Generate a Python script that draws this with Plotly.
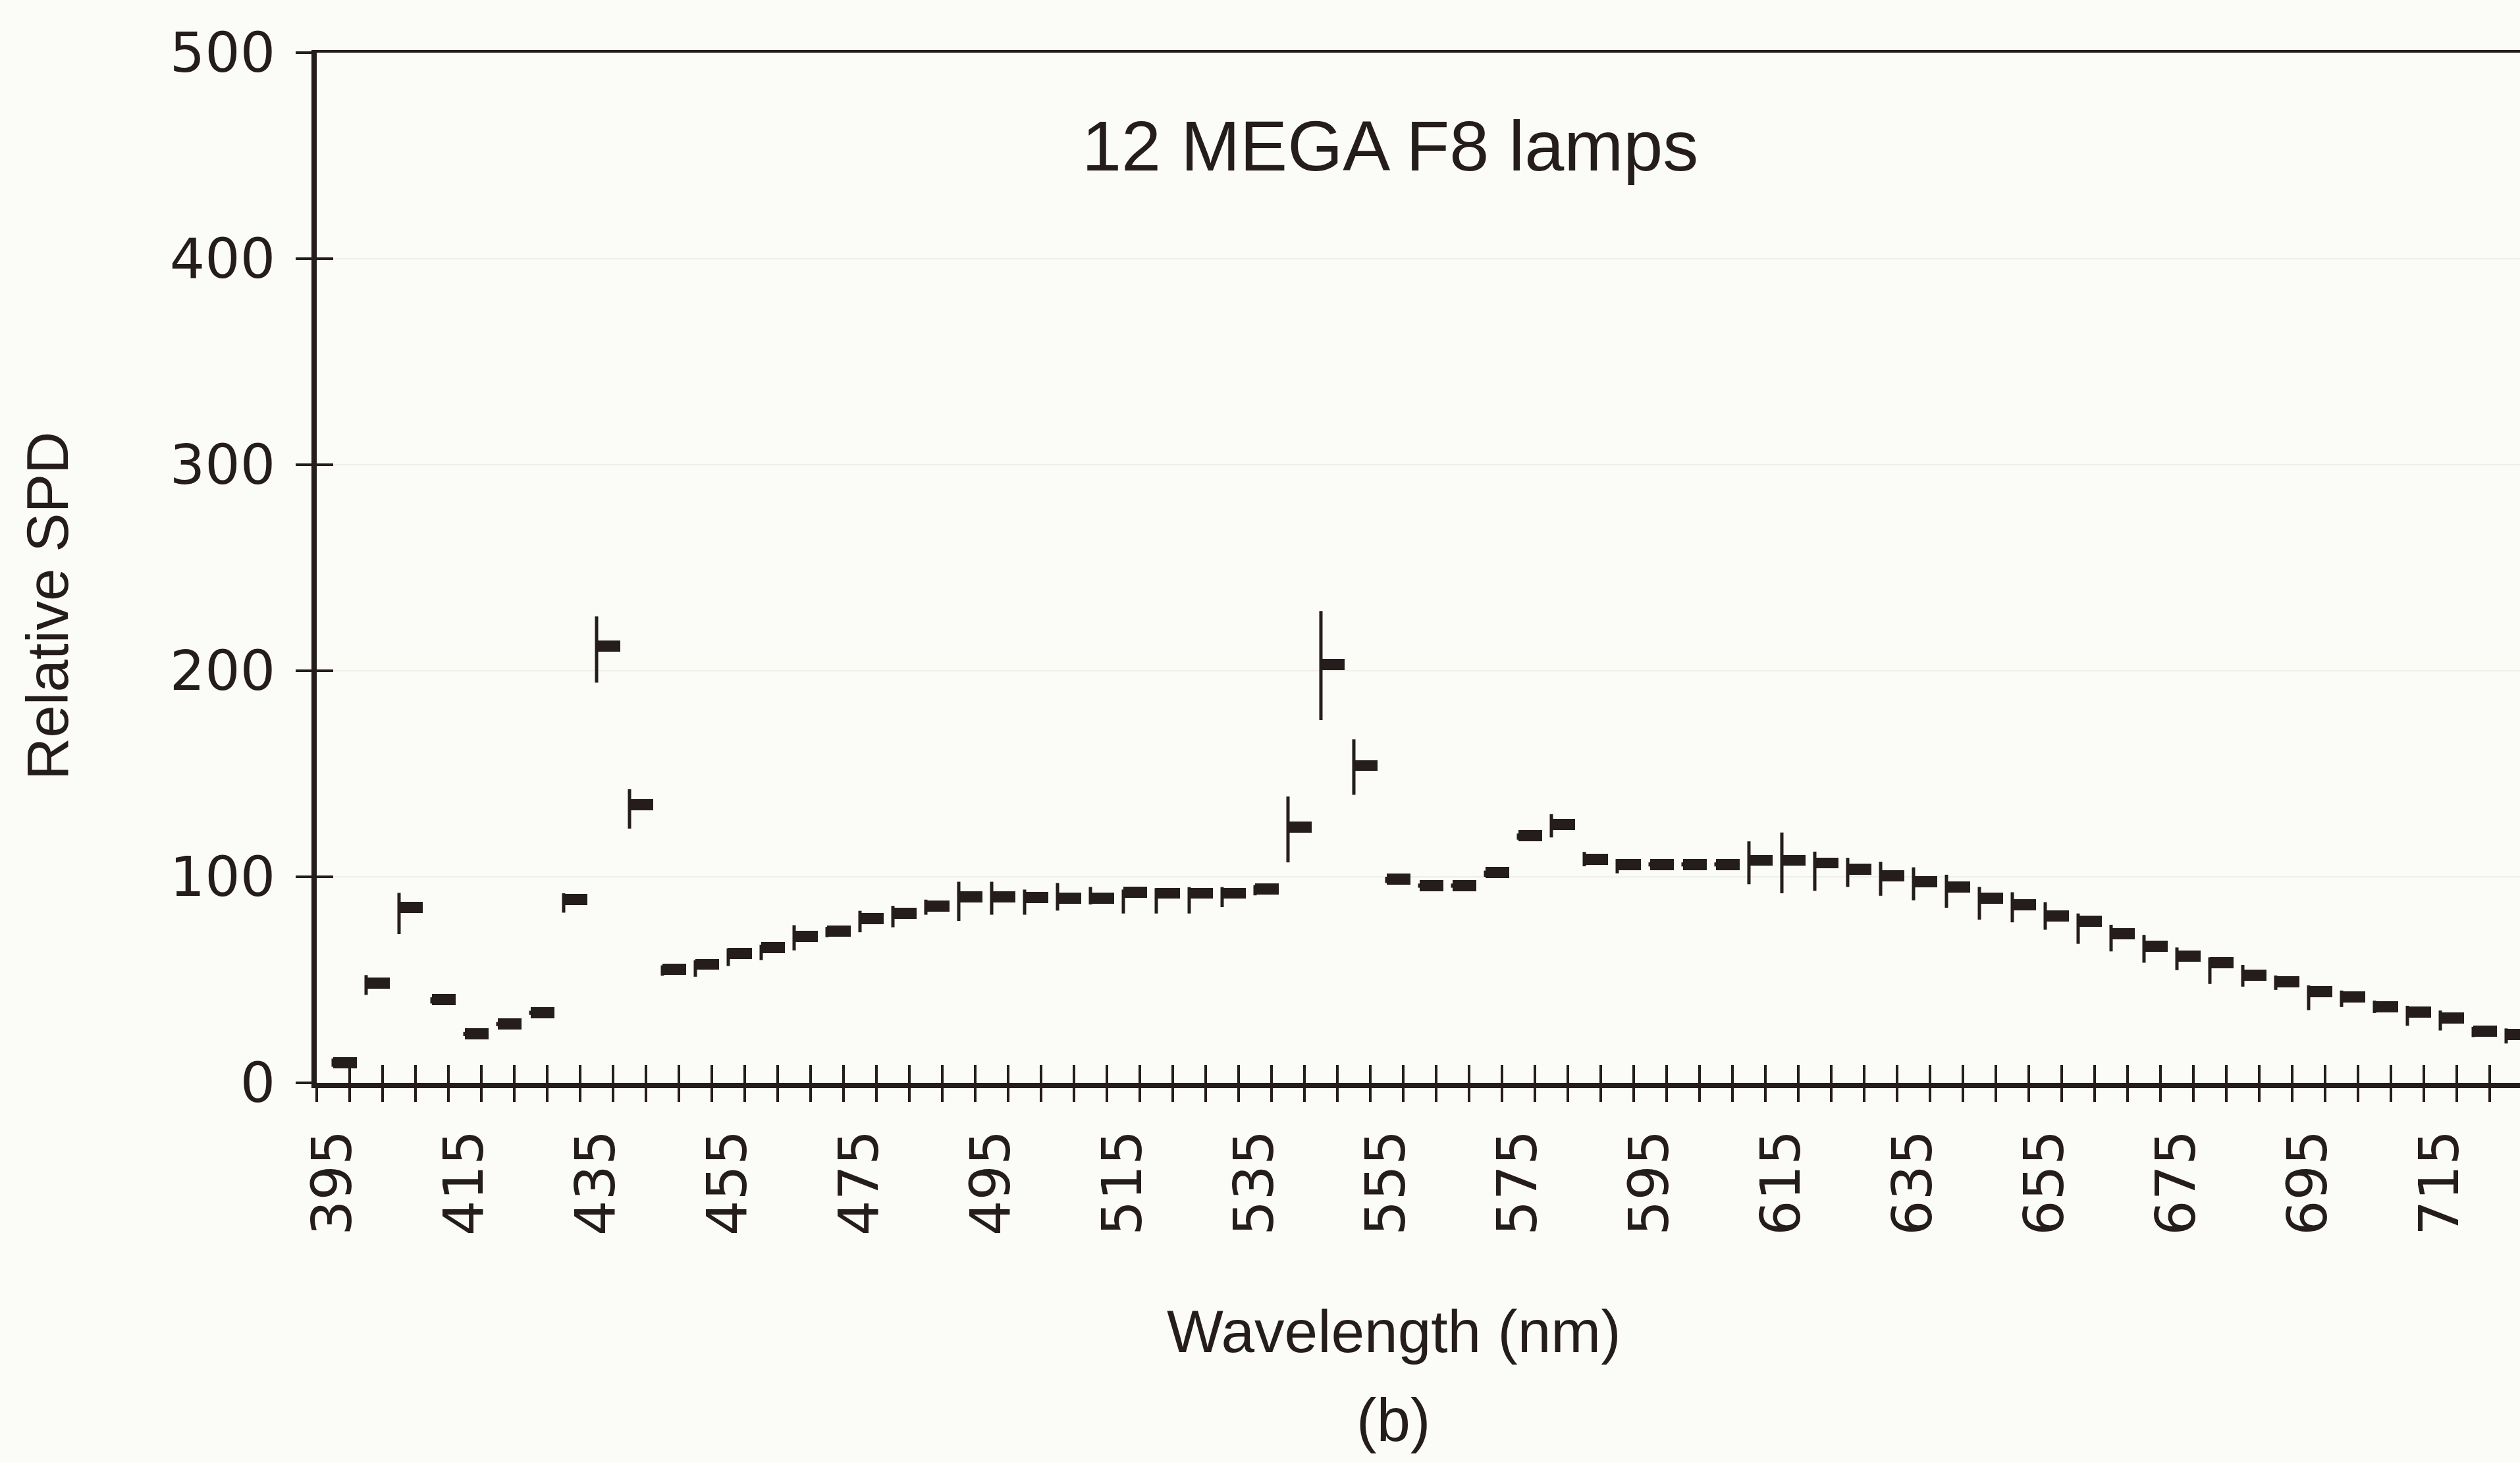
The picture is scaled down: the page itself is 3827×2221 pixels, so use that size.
import plotly.graph_objects as go

# ---------------- data ----------------
wavelengths = list(range(395, 730, 5))
spd = [9.8, 48.3, 85.2, 40.5, 23.7, 28.5, 34.0, 89.0, 212.0, 135.0,
       55.0, 57.5, 62.7, 65.6, 71.0, 73.7, 79.8, 82.2, 85.9, 90.2,
       90.2, 89.8, 89.6, 89.6, 92.6, 92.0, 92.0, 92.0, 94.0, 124.0,
       203.0, 154.0, 99.0, 95.7, 95.7, 102.0, 120.0, 125.5, 108.6, 106.0,
       106.0, 106.0, 106.0, 108.0, 108.0, 106.7, 103.7, 100.6, 97.6, 95.0,
       89.6, 86.5, 81.0, 78.5, 72.4, 66.3, 61.4, 58.4, 52.2, 49.1,
       44.3, 41.8, 36.9, 34.4, 31.4, 25.2, 23.4]
err_up = [2, 4, 7, 1, 1, 1, 1, 3, 14.4, 7.5,
          2, 2, 2.6, 1.4, 5.5, 2, 3.7, 3.7, 3, 7.4,
          7.4, 4, 7.4, 5.5, 1.2, 2.5, 3, 3, 2, 15,
          26, 12.7, 1, 1, 1, 1, 1, 4.9, 3.5, 2.6,
          1, 1, 1, 9.2, 13.5, 5.5, 5.5, 6.7, 7, 6,
          5.5, 6, 6.7, 3.7, 4.3, 5.5, 4.3, 2.5, 5, 3,
          3, 3, 3, 3, 3.7, 2, 3]
err_down = [2, 5.6, 13, 2, 1, 1, 1, 6.4, 17.7, 11.6,
            3, 6, 6, 6, 6.7, 3, 6.7, 6.7, 4.3, 11.6,
            8.6, 8.2, 6, 3, 10.4, 9.8, 9.8, 6.7, 3, 17,
            27, 14.2, 2, 1, 1, 2, 2, 6.4, 3.5, 4.3,
            1, 1, 1, 11.6, 16, 13.5, 8.6, 9.8, 9, 10,
            10.4, 8.6, 6.7, 11, 8.6, 8, 6.7, 10.4, 5.5, 4,
            9, 5, 3, 6.7, 6, 3, 4.3]
x_label_vals = list(range(395, 716, 20))
y_tick_vals = [0, 100, 200, 300, 400, 500]

# ---------------- style ----------------
W, H = 3827, 2221
INK = "#241d1b"
BG = "#fbfbf7"
FONT = "Liberation Sans, Arial, sans-serif"
TICK_FONT = "DejaVu Sans, Verdana, sans-serif"
DASH_H = 5.4      # dash thickness in data units
DASH_W = 3.6      # dash length in nm
STEP = 5
X_RANGE = [392.5, 392.5 + (W - 481) / 10.0]
Y_RANGE = [0, 500]

x_dom = [481 / W, 1.0]
y_dom = [(H - 1645) / H, (H - 80) / H]

boundaries = [w - STEP / 2 for w in wavelengths] + [wavelengths[-1] + STEP / 2]

fig = go.Figure()

# horizontal dash for each reading (starts at the category centre)
fig.add_trace(go.Bar(
    x=wavelengths,
    y=[DASH_H] * len(spd),
    base=[v - DASH_H / 2 for v in spd],
    width=DASH_W,
    offset=0,
    marker=dict(color=INK, line=dict(width=0)),
    showlegend=False,
    hoverinfo="skip",
))

# vertical error bars at the category centre
fig.add_trace(go.Scatter(
    x=wavelengths,
    y=spd,
    mode="markers",
    marker=dict(size=1, color="rgba(0,0,0,0)"),
    error_y=dict(type="data", symmetric=False, array=err_up, arrayminus=err_down,
                 thickness=5, width=0, color=INK),
    showlegend=False,
    hoverinfo="skip",
))

# invisible carriers so the overlay tick axes get drawn
for xa, ya in (("x2", "y2"), ("x3", "y3"), ("x4", "y")):
    fig.add_trace(go.Scatter(
        x=[wavelengths[0]], y=[spd[0]], xaxis=xa, yaxis=ya, mode="markers",
        marker=dict(size=1, color="rgba(0,0,0,0)"), showlegend=False, hoverinfo="skip",
    ))

tickfont = dict(family=TICK_FONT, size=84, color=INK)

common_x = dict(range=X_RANGE, automargin=False, showgrid=False, zeroline=False, fixedrange=True)
common_y = dict(range=Y_RANGE, automargin=False, zeroline=False, fixedrange=True)

fig.update_layout(
    width=W, height=H,
    margin=dict(l=0, r=0, t=0, b=0),
    paper_bgcolor=BG,
    plot_bgcolor="rgba(0,0,0,0)",
    showlegend=False,
    bargap=0,
    xaxis=dict(
        domain=x_dom, anchor="y",
        tickmode="array", tickvals=x_label_vals, ticktext=[str(v) for v in x_label_vals],
        ticks="", tickangle=-90, tickfont=tickfont, ticklabelstandoff=30,
        showline=True, linecolor=INK, linewidth=8, **common_x,
    ),
    xaxis2=dict(
        overlaying="x", anchor="y2", side="bottom",
        tickmode="array", tickvals=boundaries, ticks="outside", ticklen=28,
        tickwidth=4, tickcolor=INK, showticklabels=False, showline=False, **common_x,
    ),
    xaxis3=dict(
        overlaying="x", anchor="y3", side="bottom",
        tickmode="array", tickvals=boundaries, ticks="inside", ticklen=27,
        tickwidth=4, tickcolor=INK, showticklabels=False, showline=False, **common_x,
    ),
    xaxis4=dict(
        overlaying="x", anchor="y", side="top",
        ticks="", showticklabels=False, showline=True, linecolor=INK, linewidth=4,
        **common_x,
    ),
    yaxis=dict(
        domain=y_dom, anchor="x",
        tickmode="array", tickvals=y_tick_vals, ticks="", tickfont=tickfont,
        ticklabelstandoff=38,
        showline=True, linecolor=INK, linewidth=8,
        showgrid=True, gridcolor="#efefe9", gridwidth=2, **common_y,
    ),
    yaxis2=dict(
        overlaying="y", anchor="x2", side="left",
        tickmode="array", tickvals=y_tick_vals, ticks="outside", ticklen=31,
        tickwidth=4, tickcolor=INK, showticklabels=False, showline=False,
        showgrid=False, **common_y,
    ),
    yaxis3=dict(
        overlaying="y", anchor="x3", side="left",
        tickmode="array", tickvals=y_tick_vals, ticks="inside", ticklen=25,
        tickwidth=4, tickcolor=INK, showticklabels=False, showline=False,
        showgrid=False, **common_y,
    ),
    annotations=[
        dict(text="12 MEGA F8 lamps", xref="paper", yref="paper",
             x=2111 / W, y=1 - 222 / H, xanchor="center", yanchor="middle",
             showarrow=False, font=dict(family=FONT, size=108, color=INK)),
        dict(text="Wavelength (nm)", xref="paper", yref="paper",
             x=2116 / W, y=1 - 2022 / H, xanchor="center", yanchor="middle",
             showarrow=False, font=dict(family=FONT, size=91, color=INK)),
        dict(text="(b)", xref="paper", yref="paper",
             x=2116 / W, y=1 - 2157 / H, xanchor="center", yanchor="middle",
             showarrow=False, font=dict(family=FONT, size=92, color=INK)),
        dict(text="Relative SPD", xref="paper", yref="paper",
             x=72 / W, y=1 - 921 / H, xanchor="center", yanchor="middle",
             textangle=-90, showarrow=False, font=dict(family=FONT, size=89, color=INK)),
    ],
)

fig.write_html("out.html")
